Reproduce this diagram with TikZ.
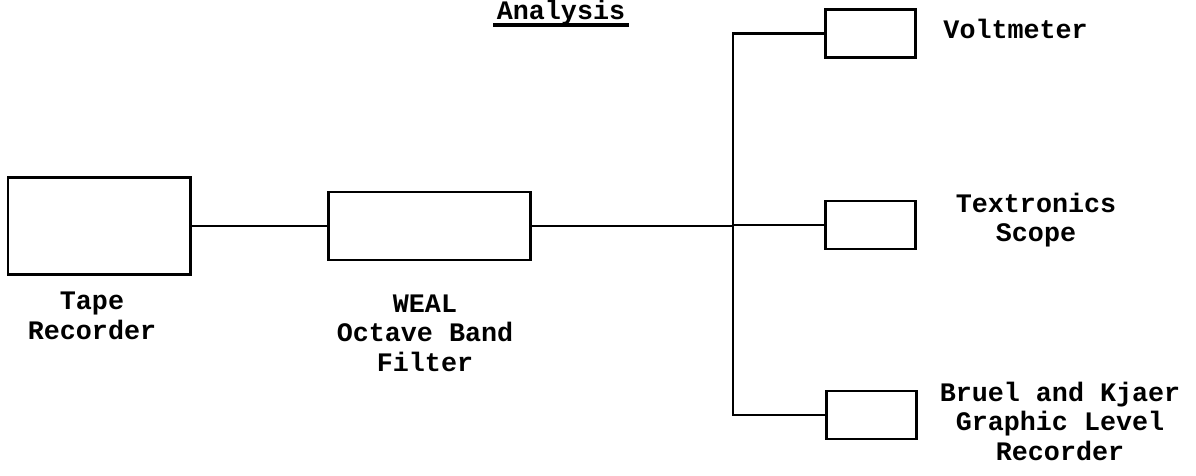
\documentclass[tikz,border=0pt]{standalone}
\usepackage{fontspec}
\setmonofont{Liberation Mono}
\usetikzlibrary{positioning, calc}

\begin{document}
\begin{tikzpicture}[x=0.025cm, y=-0.025cm, line width=2.1pt,
    unit/.style={draw, line width=2.1pt, inner sep=0pt},
    small/.style={unit, minimum width=2.27cm, minimum height=1.2cm},
    lbl/.style={font=\ttfamily\bfseries\fontsize{19}{21}\selectfont, align=center, inner sep=0pt}]
  \useasboundingbox (0,0) rectangle (1196,475);

  % boxes
  \node[unit, minimum width=4.55cm, minimum height=2.42cm] (tape) at (99,226) {};
  \node[unit, minimum width=5.07cm, minimum height=1.7cm] (filter) at (429.5,226) {};
  \node[small] (volt) at (870.5,33.5) {};
  \node[small] (scope) at (870.5,225) {};
  \node[small] (bk) at (871.5,415) {};
  \coordinate (bus) at (733,226);

  % wiring
  \draw (tape.east) -- (filter.west);
  \draw (filter.east) -- (bus);
  \draw (bus) |- (volt.west);
  \draw (bus) |- (scope.west);
  \draw (bus) |- (bk.west);

  % labels
  \node[lbl, anchor=base] (title) at (561,19) {Analysis};
  \draw[line width=2.4pt] ($(title.base west)+(-2,6)$) coordinate (ulA) -- ($(title.base east)+(2,6)$) coordinate (ulB);
  \node[lbl] (tapelbl) at (92,316) {Tape\\Recorder};
  \node[lbl] (filterlbl) at (425,333) {WEAL\\Octave Band\\Filter};
  \node[lbl, anchor=base west] (voltlbl) at (942,38) {Voltmeter};
  \node[lbl] (scopelbl) at (1036,220) {Textronics\\Scope};
  \node[lbl] (bklbl) at (1060,421) {Bruel and Kjaer\\Graphic Level\\Recorder};
\end{tikzpicture}
\end{document}
